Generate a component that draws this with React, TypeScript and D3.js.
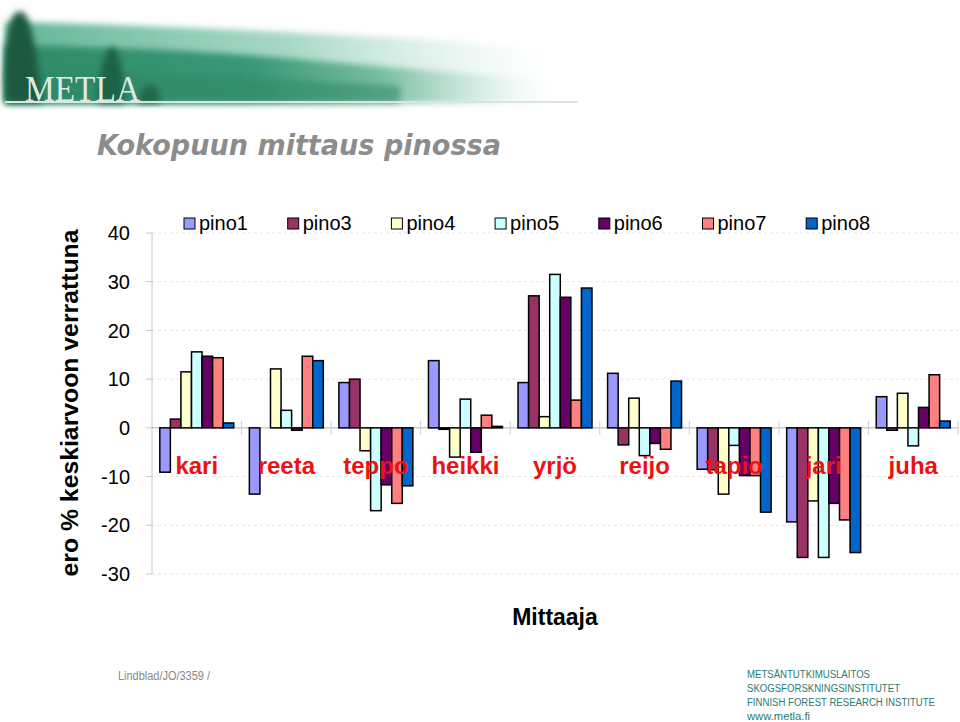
import React from "react";
import * as d3 from "d3";

const categories = ["kari", "reeta", "teppo", "heikki", "yrjö", "reijo", "tapio", "jari", "juha"];
const seriesNames = ["pino1", "pino3", "pino4", "pino5", "pino6", "pino7", "pino8"];
const seriesColors = ["#9999FF", "#993366", "#FFFFCC", "#CCFFFF", "#660066", "#FF8080", "#0066CC"];

const pino1 = [-9.1, -13.6, 9.3, 13.8, 9.3, 11.2, -8.5, -19.3, 6.4];
const pino3 = [1.8, 0, 10.0, -0.3, 27.1, -3.5, -8.6, -26.6, -0.5];
const pino4 = [11.5, 12.1, -4.7, -6.0, 2.3, 6.1, -13.6, -15.0, 7.1];
const pino5 = [15.6, 3.6, -17.0, 5.9, 31.5, -5.7, -3.6, -26.6, -3.7];
const pino6 = [14.7, -0.5, -11.7, -5.0, 26.8, -3.2, -9.8, -15.5, 4.2];
const pino7 = [14.4, 14.7, -15.5, 2.6, 5.7, -4.4, -9.8, -18.9, 10.9];
const pino8 = [1.0, 13.8, -11.9, 0.3, 28.7, 9.6, -17.3, -25.6, 1.4];
const seriesValues = [pino1, pino3, pino4, pino5, pino6, pino7, pino8];

const yTicks = [40, 30, 20, 10, 0, -10, -20, -30];

const footerLines = [
  "METSÄNTUTKIMUSLAITOS",
  "SKOGSFORSKNINGSINSTITUTET",
  "FINNISH FOREST RESEARCH INSTITUTE",
  "www.metla.fi",
];
const footerWidths = [123, 153, 188, 63];

export default function App() {
  const W = 960, H = 722;
  const x0 = 152, x1 = 958;
  const y = d3.scaleLinear().domain([-30, 40]).range([574, 233]);
  const x = d3.scaleBand<string>().domain(categories).range([x0, x1]).paddingInner(0).paddingOuter(0);
  const groupPad = 7.8;
  const xs = d3
    .scaleBand<string>()
    .domain(seriesNames)
    .range([groupPad, x.bandwidth() - groupPad])
    .padding(0);

  return (
    <svg
      width={W}
      height={H}
      style={{ position: "absolute", left: 0, top: 0, background: "#fff" }}
      fontFamily="'Liberation Sans', Arial, sans-serif"
    >
      <defs>
        <linearGradient id="band" x1="0" x2="1" y1="0" y2="0">
          <stop offset="0" stopColor="#2f8a68" />
          <stop offset="0.45" stopColor="#3a9877" />
          <stop offset="0.68" stopColor="#6fb89c" stopOpacity="0.9" />
          <stop offset="0.88" stopColor="#d2ece2" stopOpacity="0.6" />
          <stop offset="1" stopColor="#ffffff" stopOpacity="0" />
        </linearGradient>
        <linearGradient id="mist" x1="0" x2="1" y1="0" y2="0">
          <stop offset="0" stopColor="#62b597" />
          <stop offset="0.5" stopColor="#9fd4c0" stopOpacity="0.9" />
          <stop offset="0.82" stopColor="#e4f3ed" stopOpacity="0.6" />
          <stop offset="1" stopColor="#ffffff" stopOpacity="0" />
        </linearGradient>
        <filter id="blur" x="-20%" y="-20%" width="140%" height="140%">
          <feGaussianBlur stdDeviation="3" />
        </filter>
      </defs>

      {/* Logo banner */}
      <g>
        <rect x={5} y={0} width={573} height={103} fill="#fff" />
        <path d="M5,22 C120,24 250,30 400,38 C470,42 530,48 578,56 L578,103 L5,103 Z" fill="url(#mist)" filter="url(#blur)" />
        <path d="M5,45 C150,48 220,52 330,62 C420,70 500,76 560,82 L560,103 L5,103 Z" fill="url(#band)" filter="url(#blur)" />
        <path d="M5,70 C200,74 300,80 400,86 L400,103 L5,103 Z" fill="#2d8765" opacity="0.55" filter="url(#blur)" />
        <path d="M6,103 C3,70 5,38 11,20 C14,12 20,9 25,14 C33,26 38,60 42,103 Z" fill="#1b5a41" filter="url(#blur)" />
        <path d="M98,103 C98,80 102,60 108,50 C112,44 116,48 119,58 C123,72 124,90 124,103 Z" fill="#1f6246" filter="url(#blur)" />
        <path d="M138,103 C140,90 146,85 152,85 C158,87 160,96 160,103 Z" fill="#22664a" filter="url(#blur)" />
        <rect x={5} y={101} width={573} height={2} fill="#d9e6e0" />
        <text x={25} y={101} fontFamily="'Liberation Serif', 'DejaVu Serif', serif" fontSize={36} fill="#dfe9e4" textLength={115} lengthAdjust="spacingAndGlyphs">
          METLA
        </text>
      </g>

      {/* Title */}
      <text
        x={97}
        y={155}
        fontFamily="'DejaVu Sans', sans-serif"
        fontStyle="italic"
        fontWeight="bold"
        fontSize={28}
        fill="#8c8c8c"
        textLength={404}
        lengthAdjust="spacingAndGlyphs"
      >
        Kokopuun mittaus pinossa
      </text>

      {/* Gridlines */}
      {yTicks.filter((t) => t !== 0).map((t) => (
        <line key={"g" + t} x1={x0} x2={x1} y1={y(t)} y2={y(t)} stroke="#e6e6e6" strokeDasharray="3,3" strokeWidth={1} />
      ))}

      {/* Y axis */}
      <line x1={x0} x2={x0} y1={y(40)} y2={y(-30)} stroke="#c8c8c8" strokeWidth={1} />
      {yTicks.map((t) => (
        <g key={"t" + t}>
          <line x1={x0 - 6} x2={x0} y1={y(t)} y2={y(t)} stroke="#c8c8c8" />
          <text x={130} y={y(t)} dy="0.36em" textAnchor="end" fontSize={20} fill="#000">
            {t}
          </text>
        </g>
      ))}

      {/* Zero line and category ticks */}
      <line x1={x0} x2={x1} y1={y(0)} y2={y(0)} stroke="#b0b0b0" strokeWidth={1} />
      {categories.map((c) => (
        <line
          key={"ct" + c}
          x1={(x(c) as number) + x.bandwidth()}
          x2={(x(c) as number) + x.bandwidth()}
          y1={y(0) - 7}
          y2={y(0) + 7}
          stroke="#cfcfcf"
        />
      ))}

      {/* Bars */}
      {seriesNames.map((s, si) => (
        <g key={s}>
          {categories.map((c, ci) => {
            const v = seriesValues[si][ci];
            if (v === 0) return null;
            const bx = (x(c) as number) + (xs(s) as number);
            const top = y(Math.max(0, v));
            const bot = y(Math.min(0, v));
            return (
              <rect
                key={c}
                x={bx}
                y={top}
                width={xs.bandwidth()}
                height={Math.max(0.5, bot - top)}
                fill={seriesColors[si]}
                stroke="#000"
                strokeWidth={1.5}
              />
            );
          })}
        </g>
      ))}

      {/* Category labels */}
      {categories.map((c) => (
        <text
          key={"cl" + c}
          x={(x(c) as number) + x.bandwidth() / 2}
          y={474}
          textAnchor="middle"
          fontSize={24}
          fontWeight="bold"
          fill="#ee1111"
        >
          {c}
        </text>
      ))}

      {/* Legend */}
      {seriesNames.map((s, i) => {
        const lx = 184 + i * 103.7;
        return (
          <g key={"l" + s}>
            <rect x={lx} y={218} width={11} height={11} fill={seriesColors[i]} stroke="#000" strokeWidth={1} />
            <text x={lx + 15} y={230} fontSize={20} fill="#000">
              {s}
            </text>
          </g>
        );
      })}

      {/* Axis titles */}
      <text
        transform={`translate(78,403) rotate(-90)`}
        textAnchor="middle"
        fontSize={24}
        fontWeight="bold"
        fill="#000"
        textLength={347}
        lengthAdjust="spacingAndGlyphs"
      >
        ero % keskiarvoon verrattuna
      </text>
      <text x={555} y={625} textAnchor="middle" fontSize={23} fontWeight="bold" fill="#000">
        Mittaaja
      </text>

      {/* Footer */}
      <text x={118} y={680} fontSize={12} fill="#888" textLength={92} lengthAdjust="spacingAndGlyphs">
        Lindblad/JO/3359 /
      </text>
      <g fontSize={10} fill="#2a7a72">
        {footerLines.map((t, i) => (
          <text key={t} x={747} y={678 + i * 14} textLength={footerWidths[i]} lengthAdjust="spacingAndGlyphs">
            {t}
          </text>
        ))}
      </g>
    </svg>
  );
}
